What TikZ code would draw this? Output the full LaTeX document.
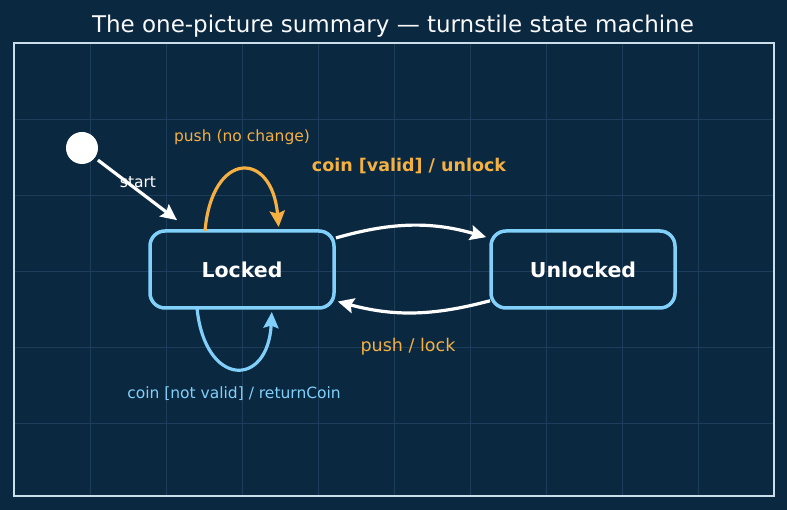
\documentclass[tikz,border=0pt]{standalone}
\usepackage{fontspec}
\setmainfont{DejaVu Sans}
\usetikzlibrary{arrows.meta, positioning}
\definecolor{bgnavy}{HTML}{0B2841}
\definecolor{gridnavy}{HTML}{1D3E5A}
\definecolor{framegray}{HTML}{C9DDEB}
\definecolor{stateblue}{HTML}{81D0FA}
\definecolor{transorange}{HTML}{F5B042}

\begin{document}
\begin{tikzpicture}[x=1pt, y=-1pt,
    state/.style={rectangle, rounded corners=15pt, draw=stateblue, line width=3.5pt, outer sep=0pt, minimum width=184pt, minimum height=77pt, text=white, font=\fontsize{20.5}{24}\selectfont\bfseries},
    startdot/.style={circle, fill=white, minimum size=32pt, inner sep=0pt, outer sep=0pt},
    arrow/.style={-{Stealth[length=16pt, width=15pt, inset=2.5pt]}, line width=3.2pt, white},
    lbl/.style={inner sep=0pt, font=\fontsize{15.5}{18}\selectfont},
    gridline/.style={gridnavy, line width=0.8pt}]

    \fill[bgnavy] (0,0) rectangle (787,510);
    \useasboundingbox (0,0) rectangle (787,510);
    \foreach \gx in {90,166,...,698} \draw[gridline] (\gx,43) -- (\gx,496);
    \foreach \gy in {119,195,...,423} \draw[gridline] (14,\gy) -- (774,\gy);
    \draw[framegray, line width=1.5pt] (14,43) rectangle (774,496);

    \node[anchor=base, inner sep=0pt, text=white!95!gray, font=\fontsize{23}{27}\selectfont] (title) at (393,33) {The one-picture summary — turnstile state machine};

    \node[startdot] (start) at (82,148) {};
    \node[state] (locked) at (242,269.5) {Locked};
    \node[state, right=157pt of locked] (unlocked) {Unlocked};

    \draw[arrow, shorten <=4pt, shorten >=18pt] (start) -- (locked);
    \draw[arrow, transorange, shorten >=4pt] ([xshift=-37pt]locked.north) .. controls +(7,-81) and +(-7,-81) .. ([xshift=37pt]locked.north);
    \draw[arrow, stateblue, shorten >=4pt] ([xshift=-45pt]locked.south) .. controls +(8,80) and +(-4,80) .. ([xshift=30pt]locked.south);
    \draw[arrow, shorten <=2pt, shorten >=5pt] ([yshift=31pt]locked.east) to[bend left=16] ([yshift=31pt]unlocked.west);
    \draw[arrow, shorten <=1pt, shorten >=4pt] ([yshift=-31pt]unlocked.west) to[bend left=15] ([yshift=-31pt]locked.east);

    \node[lbl, text=white] (startlbl) at (138,182) {start};
    \node[lbl, text=transorange] (pushlbl) at (242,137) {push (no change)};
    \node[lbl, text=transorange, font=\fontsize{17.5}{21}\selectfont\bfseries] (validlbl) at (409,166) {coin [valid] / unlock};
    \node[lbl, text=transorange, font=\fontsize{17.5}{21}\selectfont] (locklbl) at (408,347) {push / lock};
    \node[lbl, text=stateblue] (returnlbl) at (234,394) {coin [not valid] / returnCoin};
\end{tikzpicture}
\end{document}
